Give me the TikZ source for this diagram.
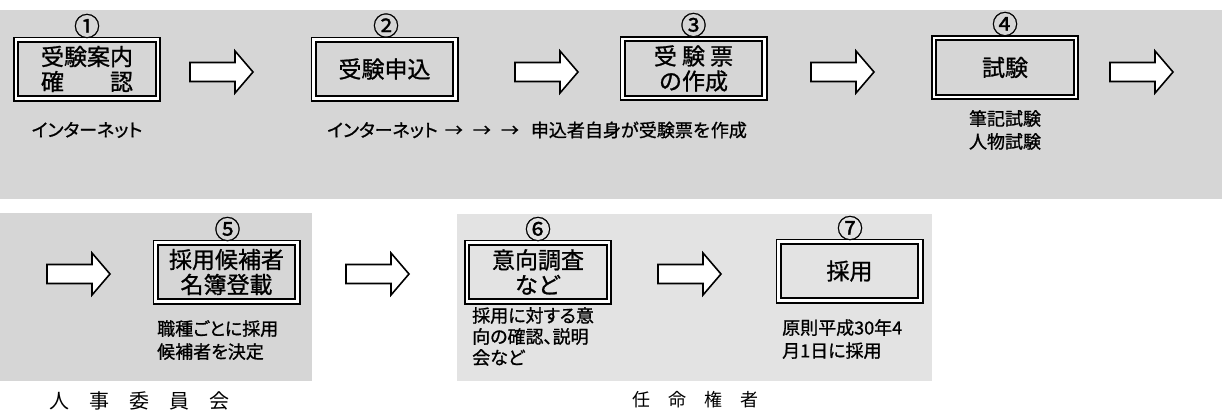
\documentclass[tikz,border=0pt]{standalone}
\usepackage{fontspec}
\setmainfont{Noto Sans CJK JP}[FakeBold=1]
\newfontfamily\jpp{Noto Sans CJK JP}[RawFeature=+palt, FakeBold=1]
\newfontfamily\jpthin{Noto Sans CJK JP}
\newcommand{\innerframe}[1]{%
  \draw[white, line width=2.6pt] ([shift={(2.9,2.9)}]#1.north west) rectangle ([shift={(-2.9,-2.9)}]#1.south east);
  \draw[black, line width=2pt] ([shift={(5.2,5.2)}]#1.north west) rectangle ([shift={(-5.2,-5.2)}]#1.south east);}
\newcommand{\myarrow}[2]{%
  \draw[blockarrow] (#1,#2) ++(0,-9.5) -- ++(45,0) -- ++(0,-11.5) -- ++(18,21) -- ++(-18,21) -- ++(0,-11.5) -- ++(-45,0) -- cycle;}
\begin{document}
\begin{tikzpicture}[x=1pt,y=-1pt,
  bgA/.style={fill=black!16},
  bgB/.style={fill=black!11},
  outerbox/.style={draw=black, line width=3.2pt, minimum width=144.8pt, minimum height=61.8pt,
    inner sep=0pt, align=center, font=\fontsize{23}{25}\selectfont},
  numlabel/.style={font=\fontsize{26}{26}\selectfont, inner sep=0pt},
  subtext/.style={font=\jpp\fontsize{18}{23}\selectfont, align=left, inner sep=0pt, anchor=north west},
  grouplabel/.style={inner sep=0pt, anchor=west},
  blockarrow/.style={draw=black, fill=white, line width=1.6pt, line join=miter}]
\useasboundingbox (0,0) rectangle (1222,410);
% background bands
\fill[bgA] (0,10) rectangle (1222,199);
\fill[bgA] (0,213) rectangle (312,381);
\fill[bgB] (457,214) rectangle (932,381);
% row 1 boxes
\node[outerbox] (b1) at (87,69) {受験案内\\確　　認};
\node[outerbox] (b2) at (384.5,69) {受験申込};
\node[outerbox] (b3) at (693.5,68.5) {受 験 票\\の作成};
\node[outerbox] (b4) at (1005,67.5) {試験};
\innerframe{b1}\innerframe{b2}\innerframe{b3}\innerframe{b4}
% row 2 boxes
\node[outerbox] (b5) at (226.5,272) {採用候補者\\名簿登載};
\node[outerbox] (b6) at (538,272) {意向調査\\など};
\node[outerbox] (b7) at (849.5,271) {採用};
\innerframe{b5}\innerframe{b6}\innerframe{b7}
% step numbers
\node[numlabel] (n1) at (87,26) {①};
\node[numlabel] (n2) at (386,25.5) {②};
\node[numlabel] (n3) at (693.5,25) {③};
\node[numlabel] (n4) at (1005,24) {④};
\node[numlabel] (n5) at (227.5,229) {⑤};
\node[numlabel] (n6) at (538,229) {⑥};
\node[numlabel] (n7) at (850,228) {⑦};
% block arrows
\myarrow{190}{72}
\myarrow{515}{72}
\myarrow{811}{72}
\myarrow{1110}{72}
\myarrow{47}{274}
\myarrow{346}{274}
\myarrow{658}{274}
% notes
\node[subtext, anchor=center] (t1) at (87,130) {インターネット};
\node[subtext, anchor=west] (t2) at (327,130) {インターネット \hspace{3pt}→ \hspace{6pt}→ \hspace{6pt}→ \hspace{8pt}{\normalfont 申込者自身が受験票を作成}};
\node[subtext, anchor=north, align=center] (t4) at (1005,110) {筆記試験\\人物試験};
\node[subtext] (t5) at (157,320) {職種ごとに採用\\候補者を決定};
\node[subtext, font=\jpp\fontsize{18}{21}\selectfont] (t6) at (472,307) {採用に対する意\\向の確認、説明\\会など};
\node[subtext] (t7) at (782,319) {原則平成30年4\\月1日に採用};
% group labels
\node[grouplabel, font=\jpthin\fontsize{20}{20}\selectfont] (g1) at (49,401) {人　事　委　員　会};
\node[grouplabel, font=\jpthin\fontsize{18}{18}\selectfont] (g2) at (632,400) {任　命　権　者};
\end{tikzpicture}
\end{document}
